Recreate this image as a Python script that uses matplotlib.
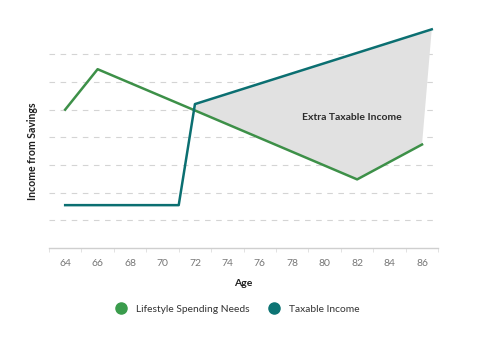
import matplotlib.pyplot as plt
from matplotlib.lines import Line2D

# spending need vs taxable withdrawals by age
spend_age = [64, 66, 72, 82, 86]
spend_val = [5.0, 6.46, 4.97, 2.48, 3.74]

taxable_age = [64, 71, 72, 86.6]
taxable_val = [1.55, 1.55, 5.2, 7.9]

age_ticks = list(range(64, 87, 2))

GREEN = "#3d9048"
TEAL = "#0b6f71"

plt.rcParams["font.family"] = ["Lato", "DejaVu Sans"]

fig = plt.figure(figsize=(4.8, 3.45), dpi=100)
ax = fig.add_axes([0.102, 0.281, 0.811, 0.642])

# shaded gap where taxable income exceeds spending needs
fill_x = taxable_age[2:] + spend_age[::-1][:3]
fill_y = taxable_val[2:] + spend_val[::-1][:3]
ax.fill(fill_x, fill_y, color="#e1e1e1", lw=0, zorder=1)

ax.plot(spend_age, spend_val, color=GREEN, lw=1.8, zorder=3)
ax.plot(taxable_age, taxable_val, color=TEAL, lw=1.8, zorder=3)

ax.text(81.7, 4.7, "Extra Taxable Income", ha="center", va="center",
        fontsize=7.5, fontweight="bold", color="#2b2b2b", zorder=4)

ax.set_xlim(63, 87)
ax.set_ylim(0, 8)

for lvl in range(1, 8):
    ax.axhline(lvl, color="#d4d4d4", lw=0.8, ls=(0, (5, 5)), zorder=0)

for side in ["top", "right", "left"]:
    ax.spines[side].set_visible(False)
ax.spines["bottom"].set_color("#cfcfcf")
ax.spines["bottom"].set_linewidth(1.0)

ax.set_xticks(age_ticks)
ax.set_xticks(range(63, 88, 2), minor=True)
ax.tick_params(axis="x", which="major", length=0, pad=8, labelsize=7.5, labelcolor="#777777")
ax.tick_params(axis="x", which="minor", length=3, color="#dddddd")
ax.set_yticks([])

ax.set_xlabel("Age", fontsize=7.5, fontweight="bold", color="#1e1e1e", labelpad=8)
ax.set_ylabel("Income from Savings", fontsize=7.6, fontweight="bold", color="#1e1e1e")
ax.yaxis.set_label_coords(-0.028, 0.437)

handles = [
    Line2D([], [], marker="o", ls="", color="#3a9c4c", markersize=8),
    Line2D([], [], marker="o", ls="", color="#0d7474", markersize=8),
]
fig.legend(handles, ["Lifestyle Spending Needs", "Taxable Income"],
           loc="center", bbox_to_anchor=(0.49, 0.103), ncol=2, frameon=False,
           fontsize=7.4, labelcolor="#333333", handletextpad=0.5, columnspacing=1.3)

fig.savefig("out.png", dpi=100)
